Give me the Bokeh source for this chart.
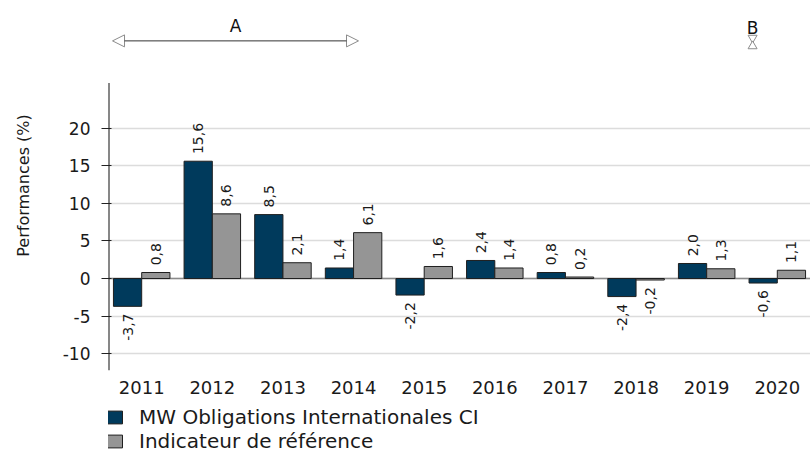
import math
from bokeh.plotting import figure
from bokeh.layouts import column
from bokeh.models import (ColumnDataSource, FactorRange, Range1d, FixedTicker, Span,
                          Legend, LegendItem, Arrow, NormalHead, Label)
from bokeh.transform import dodge
from bokeh.core.properties import value
from bokeh.embed import file_html
from bokeh.resources import INLINE

# ---- data ----
years = ["2011", "2012", "2013", "2014", "2015", "2016", "2017", "2018", "2019", "2020"]
fund = [-3.7, 15.6, 8.5, 1.4, -2.2, 2.4, 0.8, -2.4, 2.0, -0.6]
bench = [0.8, 8.6, 2.1, 6.1, 1.6, 1.4, 0.2, -0.2, 1.3, 1.1]
series_names = ["MW Obligations Internationales CI", "Indicateur de référence"]
y_ticks = [-10, -5, 0, 5, 10, 15, 20]
y_tick_labels = {t: str(t) for t in y_ticks}

DARK = "#003a5c"
GREY = "#959595"
FONT = "DejaVu Sans"
Y0, Y1 = -12.23, 36.97

p = figure(x_range=FactorRange(*years, range_padding=-0.03, range_padding_units="absolute"),
           y_range=Range1d(Y0, Y1),
           frame_width=702, frame_height=370, output_backend="svg", toolbar_location=None,
           min_border_left=108, min_border_right=0, min_border_top=0, min_border_bottom=34)
p.outline_line_color = None
p.background_fill_color = "white"

# grid
p.xgrid.grid_line_color = None
p.ygrid.ticker = FixedTicker(ticks=y_ticks)
p.ygrid.grid_line_color = "#dcdcdc"
p.ygrid.grid_line_width = 1.5

# y axis
p.yaxis.ticker = FixedTicker(ticks=y_ticks)
p.yaxis.major_label_overrides = y_tick_labels
p.yaxis.axis_line_color = None
p.yaxis.major_tick_line_color = "#222222"
p.yaxis.major_tick_out = 7
p.yaxis.major_tick_in = 3
p.yaxis.minor_tick_line_color = None
p.yaxis.major_label_text_font = FONT
p.yaxis.major_label_text_font_size = "17px"
p.yaxis.major_label_text_color = "#1a1a1a"
p.yaxis.major_label_standoff = 11
p.yaxis.axis_label = "Performances (%)"
p.yaxis.axis_label_text_font = FONT
p.yaxis.axis_label_text_font_size = "16px"
p.yaxis.axis_label_text_font_style = "normal"
p.yaxis.axis_label_text_color = "#1a1a1a"
p.yaxis.axis_label_standoff = 27

# x axis
p.xaxis.axis_line_color = None
p.xaxis.major_tick_line_color = None
p.xaxis.major_tick_out = 0
p.xaxis.major_label_text_font = FONT
p.xaxis.major_label_text_font_size = "18px"
p.xaxis.major_label_text_color = "#1a1a1a"
p.xaxis.major_label_standoff = 10

# custom y axis line (stops below the annotation area)
p.segment(x0=[0.03], y0=[Y0], x1=[0.03], y1=[26], line_color="#111111", line_width=2)

# zero line
p.add_layout(Span(location=0, dimension="width", line_color="#8a8a8a",
                  line_width=1.5, level="underlay"))

src = ColumnDataSource(dict(year=years, fund=fund, bench=bench))
r1 = p.vbar(x=dodge("year", -0.2, range=p.x_range), top="fund", width=0.4,
            source=src, fill_color=DARK, line_color="#1f1f1f", line_width=1)
r2 = p.vbar(x=dodge("year", 0.2, range=p.x_range), top="bench", width=0.4,
            source=src, fill_color=GREY, line_color="#1f1f1f", line_width=1)

# value labels (rotated)
PAD = 0.95
def fmt(v):
    return f"{v:.1f}".replace(".", ",")

for vals, off in ((fund, -0.2), (bench, 0.2)):
    pos = dict(year=[], y=[], t=[])
    neg = dict(year=[], y=[], t=[])
    for yr, v in zip(years, vals):
        d = pos if v >= 0 else neg
        d["year"].append(yr)
        d["y"].append(v + PAD if v >= 0 else v - PAD)
        d["t"].append(fmt(v))
    for d, align in ((pos, "left"), (neg, "right")):
        p.text(x=dodge("year", off, range=p.x_range), y="y", text="t",
               source=ColumnDataSource(d), angle=math.pi / 2,
               text_align=align, text_baseline="middle",
               text_font=value(FONT), text_font_size="14px", text_color="#1a1a1a")

# period annotations
p.add_layout(Arrow(start=NormalHead(size=12, fill_color="white", line_color="#8c8c8c", line_width=1),
                   end=NormalHead(size=12, fill_color="white", line_color="#8c8c8c", line_width=1),
                   x_start=0.087, y_start=31.6, x_end=3.57, y_end=31.6,
                   line_color="#333333", line_width=1))
p.add_layout(Label(x=1.83, y=33.6, text="A", text_align="center", text_baseline="middle",
                   text_font=FONT, text_font_size="17px", text_color="#111111"))
p.add_layout(Label(x=9.15, y=33.3, text="B", text_align="center", text_baseline="middle",
                   text_font=FONT, text_font_size="17px", text_color="#111111"))
p.scatter(x=[9.15], y=[32.0], marker="inverted_triangle", size=9,
          fill_color="white", line_color="#8c8c8c")
p.scatter(x=[9.15], y=[30.9], marker="triangle", size=9,
          fill_color="white", line_color="#8c8c8c")

# ---- legend in a separate strip below ----
lg = figure(width=810, height=49, x_range=Range1d(0, 1), y_range=Range1d(0, 1),
            output_backend="svg", toolbar_location=None,
            min_border_left=0, min_border_right=0, min_border_top=0, min_border_bottom=0)
lg.axis.visible = False
lg.grid.visible = False
lg.outline_line_color = None
# swatch renderers kept outside the visible range; only their legend glyphs show
d1 = lg.vbar(x=[5], top=[5], width=0.4, fill_color=DARK, line_color="#1f1f1f")
d2 = lg.vbar(x=[5], top=[5], width=0.4, fill_color=GREY, line_color="#1f1f1f")
legend = Legend(items=[LegendItem(label=series_names[0], renderers=[d1]),
                       LegendItem(label=series_names[1], renderers=[d2])],
                location=(-13, 0), orientation="vertical",
                border_line_color=None, background_fill_alpha=0,
                label_text_font=FONT, label_text_font_size="20px",
                label_text_color="#1a1a1a",
                glyph_width=30, glyph_height=16, label_standoff=14,
                label_height=20, spacing=0, padding=0, margin=0)
lg.add_layout(legend)

open("out.html", "w").write(file_html(column(p, lg, spacing=0), INLINE))
